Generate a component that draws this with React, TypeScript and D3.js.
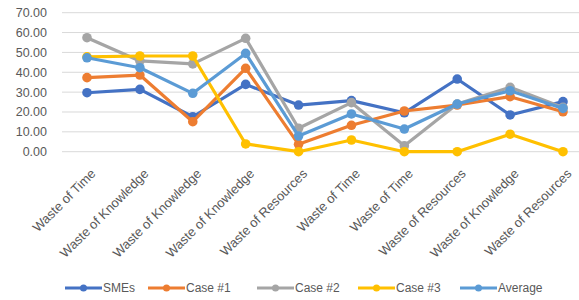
import { useEffect, useRef } from "react";
import * as d3 from "d3";

const categories = [
  "Waste of Time",
  "Waste of Knowledge",
  "Waste of Knowledge",
  "Waste of Knowledge",
  "Waste of Resources",
  "Waste of Time",
  "Waste of Time",
  "Waste of Resources",
  "Waste of Knowledge",
  "Waste of Resources",
];

const smes = [29.7, 31.4, 17.6, 33.9, 23.5, 25.7, 19.6, 36.6, 18.5, 25.2];
const case1 = [37.3, 38.6, 15.1, 42.0, 3.7, 13.3, 20.5, 23.5, 27.7, 20.1];
const case2 = [57.4, 45.7, 44.2, 57.1, 11.8, 24.7, 3.0, 24.0, 32.4, 22.3];
const case3 = [47.8, 48.2, 48.2, 3.9, 0.0, 5.9, 0.0, 0.0, 8.8, 0.0];
const average = [47.3, 42.3, 29.4, 49.5, 7.9, 19.0, 11.4, 24.0, 30.7, 21.8];

const seriesNames = ["SMEs", "Case #1", "Case #2", "Case #3", "Average"];
const seriesValues = [smes, case1, case2, case3, average];
const colors = ["#4472C4", "#ED7D31", "#A5A5A5", "#FFC000", "#5B9BD5"];

const yTicks = [0, 10, 20, 30, 40, 50, 60, 70];

const W = 579;
const H = 300;

function drawChart(svgEl: SVGSVGElement) {
  const svg = d3.select(svgEl);
  svg.selectAll("*").remove();
  const font = "'Liberation Sans', Arial, sans-serif";
  const textColor = "#595959";

  const x = d3
    .scalePoint<number>()
    .domain(d3.range(categories.length))
    .range([87, 563]);
  const y = d3.scaleLinear().domain([0, 70]).range([151.7, 12.7]);

  // gridlines
  svg
    .append("g")
    .selectAll("line")
    .data(yTicks)
    .join("line")
    .attr("x1", 62)
    .attr("x2", W)
    .attr("y1", (d) => y(d))
    .attr("y2", (d) => y(d))
    .attr("stroke", "#d9d9d9")
    .attr("stroke-width", 1);

  // y labels
  svg
    .append("g")
    .attr("font-family", font)
    .attr("font-size", 12.5)
    .attr("fill", textColor)
    .selectAll("text")
    .data(yTicks)
    .join("text")
    .attr("x", 47)
    .attr("y", (d) => y(d))
    .attr("dy", "0.35em")
    .attr("text-anchor", "end")
    .text((d) => d3.format(".2f")(d));

  // x labels, rotated
  svg
    .append("g")
    .attr("font-family", font)
    .attr("font-size", 13)
    .attr("fill", textColor)
    .selectAll("text")
    .data(categories)
    .join("text")
    .attr("text-anchor", "end")
    .attr("transform", (d, i) => `translate(${x(i)! + 3},${168}) rotate(-45)`)
    .attr("dy", "0.7em")
    .text((d) => d);

  // lines
  const line = d3
    .line<number>()
    .x((d, i) => x(i)!)
    .y((d) => y(d));

  seriesValues.forEach((vals, si) => {
    const g = svg.append("g");
    g.append("path")
      .attr("d", line(vals))
      .attr("fill", "none")
      .attr("stroke", colors[si])
      .attr("stroke-width", 3.2)
      .attr("stroke-linejoin", "round");
    g.selectAll("circle")
      .data(vals)
      .join("circle")
      .attr("cx", (d, i) => x(i)!)
      .attr("cy", (d) => y(d))
      .attr("r", 4.8)
      .attr("fill", colors[si]);
  });

  // legend
  const legendX = [65, 148, 257, 358, 460];
  const legendY = 288;
  const lg = svg
    .append("g")
    .attr("font-family", font)
    .attr("font-size", 12)
    .attr("fill", textColor);
  seriesNames.forEach((name, i) => {
    const lx = legendX[i];
    lg.append("line")
      .attr("x1", lx)
      .attr("x2", lx + 37)
      .attr("y1", legendY)
      .attr("y2", legendY)
      .attr("stroke", colors[i])
      .attr("stroke-width", 3);
    lg.append("circle")
      .attr("cx", lx + 18.5)
      .attr("cy", legendY)
      .attr("r", 3.5)
      .attr("fill", colors[i]);
    lg.append("text")
      .attr("x", lx + 38)
      .attr("y", legendY)
      .attr("dy", "0.35em")
      .text(name);
  });
}

export default function App() {
  const ref = useRef<SVGSVGElement>(null);
  useEffect(() => {
    if (ref.current) drawChart(ref.current);
  }, []);
  return (
    <svg
      ref={ref}
      width={W}
      height={H}
      style={{ position: "absolute", left: 0, top: 0, background: "#fff" }}
    />
  );
}
